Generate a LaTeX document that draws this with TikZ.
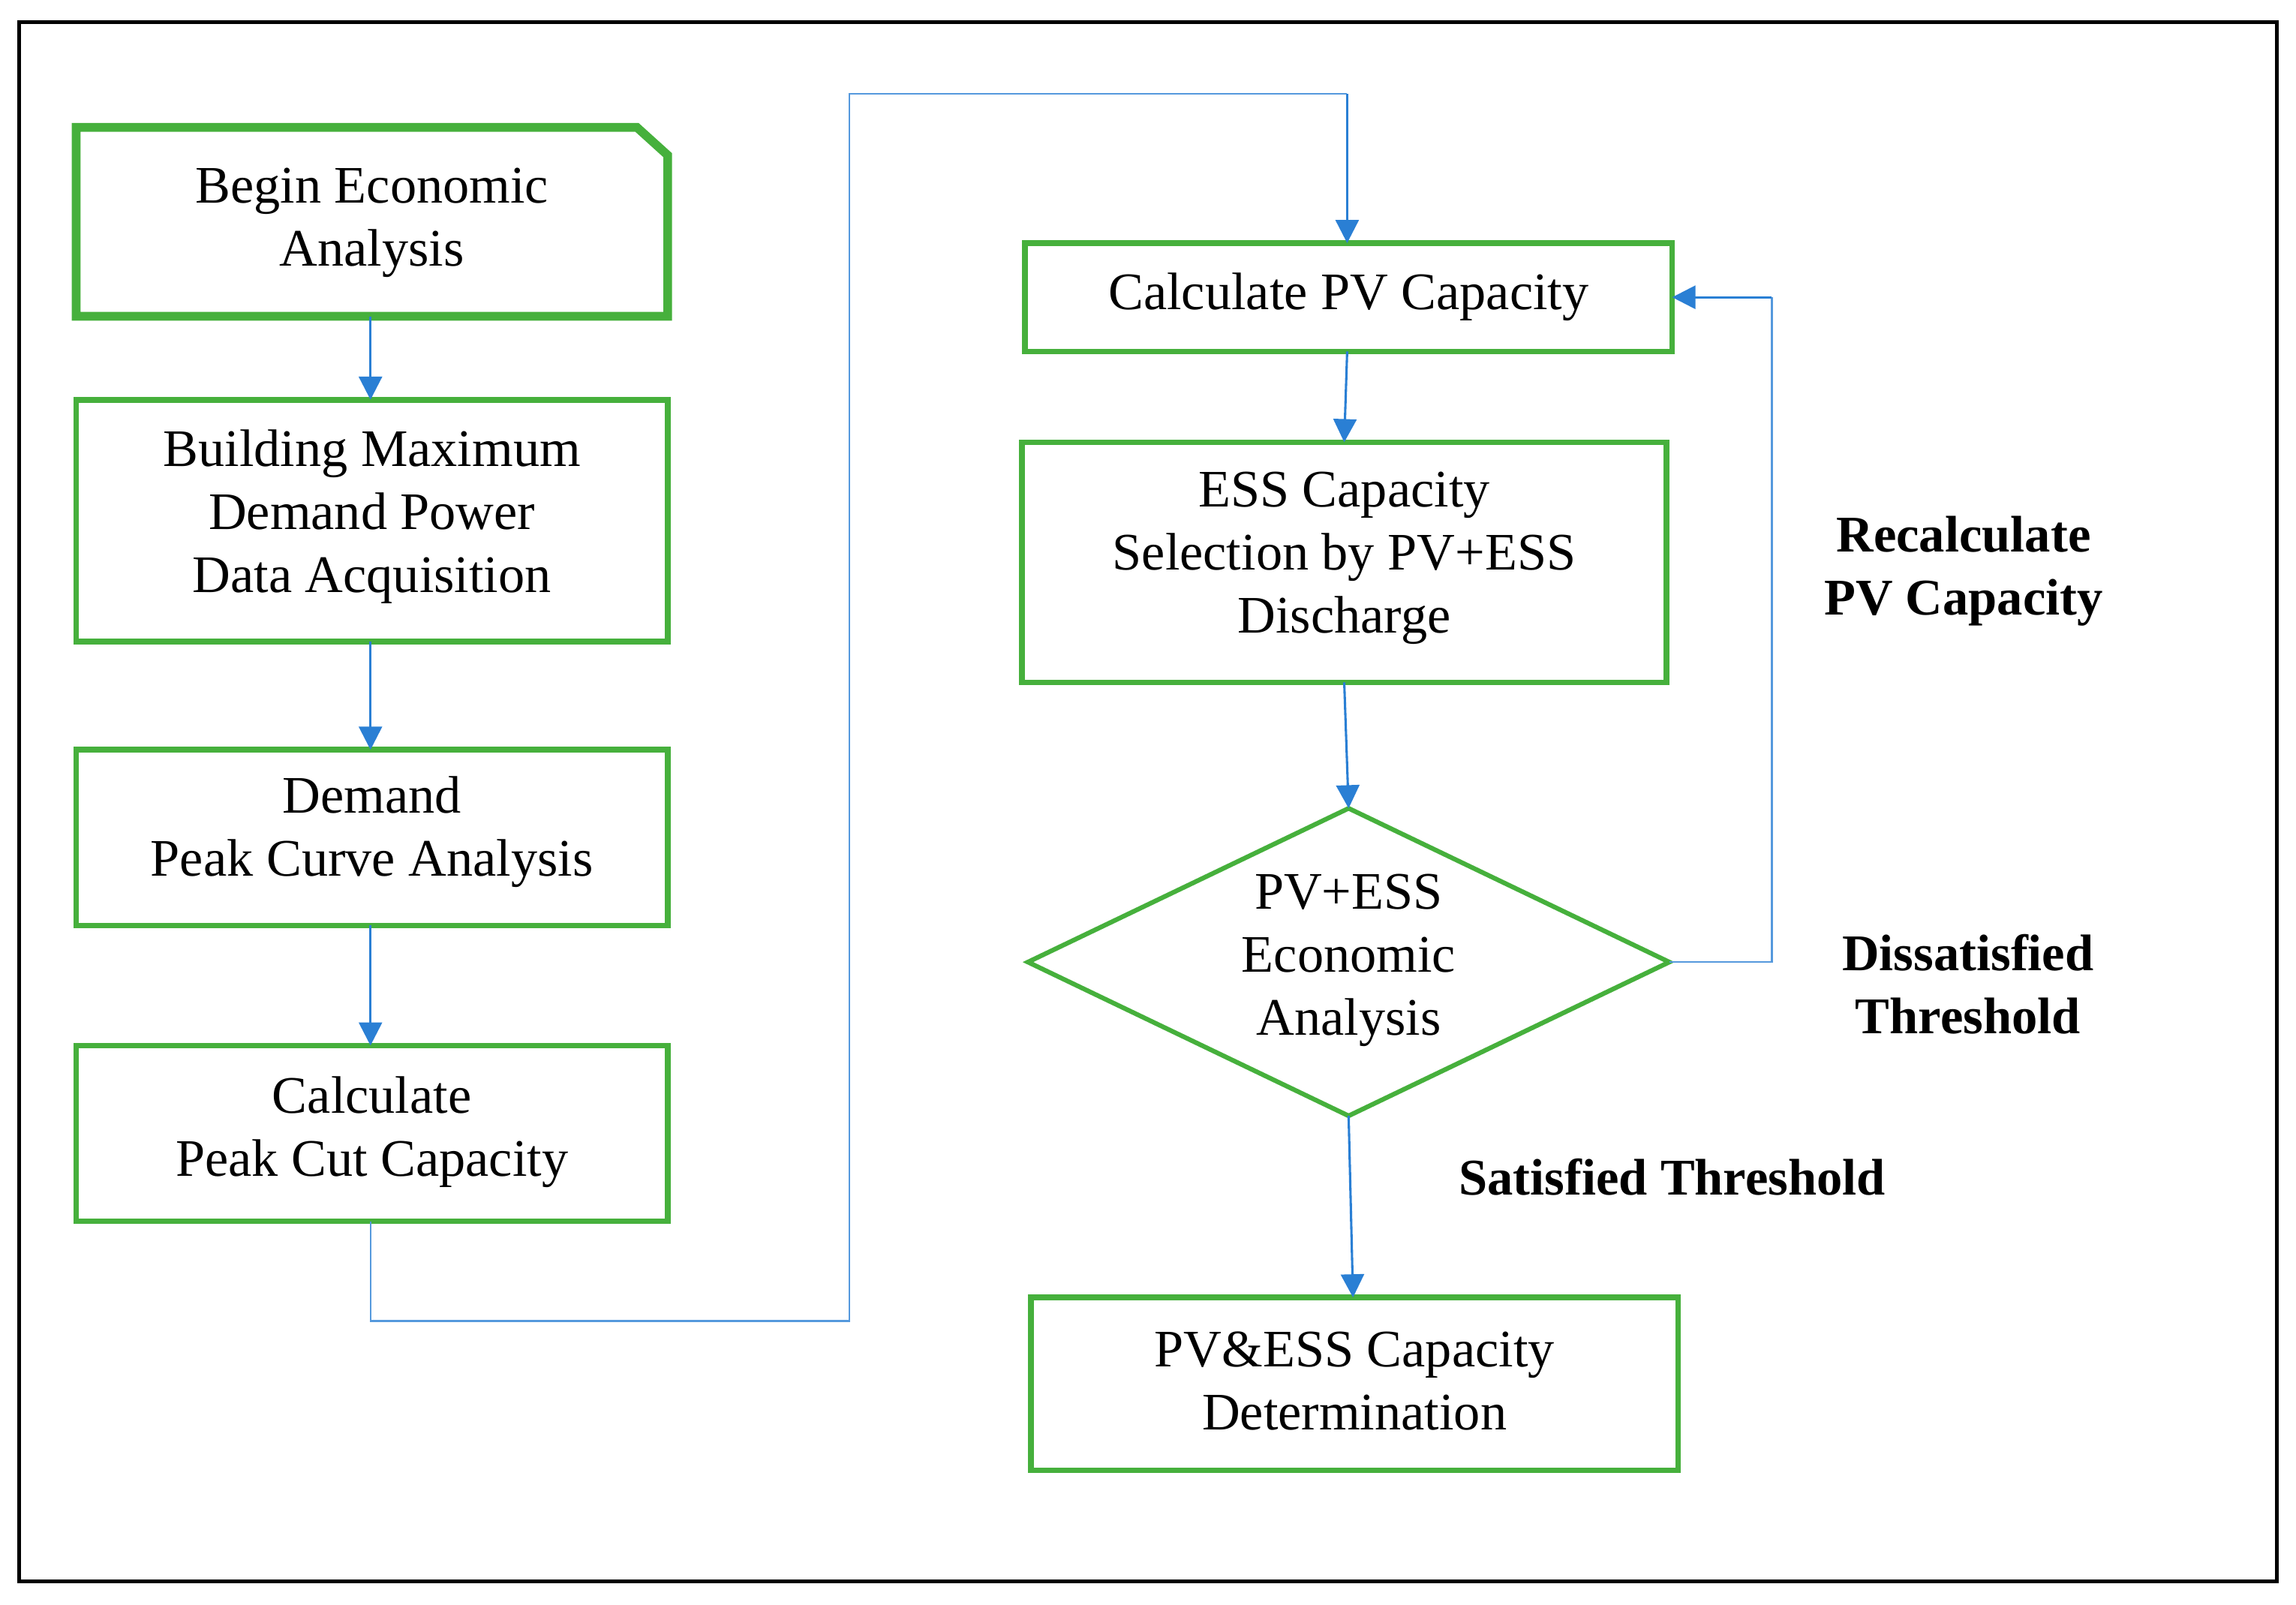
\documentclass[tikz,border=0pt]{standalone}
\usepackage{fontspec}
\setmainfont{Liberation Serif}
\usetikzlibrary{arrows.meta}
\begin{document}
\begin{tikzpicture}[x=0.02cm,y=-0.02cm,
  box/.style={draw=green!60!black!70!green, draw=gbox, line width=2.2pt},
  txt/.style={align=center, font=\fontsize{20.5}{24.5}\selectfont},
  lab/.style={align=center, font=\fontsize{20}{24.5}\selectfont\bfseries},
  arr/.style={draw=ablue, line width=0.9pt, -{Triangle[length=9pt,width=9pt]}},
  ln/.style={draw=ablue!80, line width=0.7pt}]
\definecolor{gbox}{HTML}{46B03C}
\definecolor{ablue}{HTML}{2A7FD4}
\useasboundingbox (0,0) rectangle (1568,1096);
\draw[line width=1.6pt] (13,15) rectangle (1555,1080);
% boxes
\draw[gbox, line width=3.4pt] (52,87) -- (435,87) -- (456,106) -- (456,216) -- (52,216) -- cycle;
\node[txt] (b1) at (254,152) {Begin Economic\\Analysis};
\path (253,216) coordinate (b1s);
\draw[box] (52,273) rectangle (456,438);
\node[txt] (b2) at (254,353) {Building Maximum\\Demand Power\\Data Acquisition};
\draw[box] (52,512) rectangle (456,632);
\node[txt] (b3) at (254,568) {Demand\\Peak Curve Analysis};
\draw[box] (52,714) rectangle (456,834);
\node[txt] (b4) at (254,773) {Calculate\\Peak Cut Capacity};
\draw[box] (700,166) rectangle (1142,240);
\node[txt] (b5) at (921,203) {Calculate PV Capacity};
\draw[box] (698,302) rectangle (1138,466);
\node[txt] (b6) at (918,381) {ESS Capacity\\Selection by PV+ESS\\Discharge};
\draw[gbox, line width=1.8pt] (702,657) -- (921,552) -- (1140,657) -- (921,762) -- cycle;
\node[txt] (d) at (921,656) {PV+ESS\\Economic\\Analysis};
\draw[box] (704,886) rectangle (1146,1004);
\node[txt] (b7) at (925,943) {PV\&ESS Capacity\\Determination};
% coordinates
\coordinate (b2n) at (253,273); \coordinate (b2s) at (253,438);
\coordinate (b3n) at (253,512); \coordinate (b3s) at (253,632);
\coordinate (b4n) at (253,714); \coordinate (b4s) at (253,834);
\coordinate (b5n) at (920,166); \coordinate (b5s) at (920,240); \coordinate (b5e) at (1142,203);
\coordinate (b6n) at (918,302); \coordinate (b6s) at (918,466);
\coordinate (dn) at (921,552); \coordinate (ds) at (921,762); \coordinate (de) at (1140,657);
\coordinate (b7n) at (924,886);
% arrows
\draw[arr] (b1s) -- (b2n);
\draw[arr] (b2s) -- (b3n);
\draw[arr] (b3s) -- (b4n);
\draw[ln] (b4s) -- (253,902) -- (580,902) -- (580,64) -- (920,64);
\draw[arr] (920,64) -- (b5n);
\draw[arr] (b5s) -- (b6n);
\draw[arr] (b6s) -- (dn);
\draw[arr] (ds) -- (b7n);
\draw[ln] (de) -- (1210,657) -- (1210,203);
\draw[arr] (1210,203) -- (b5e);
% labels
\node[lab] (l1) at (1341,390) {Recalculate\\PV Capacity};
\node[lab] (l2) at (1344,672) {Dissatisfied\\Threshold};
\node[lab] (l3) at (1142,804) {Satisfied Threshold};
\end{tikzpicture}
\end{document}
